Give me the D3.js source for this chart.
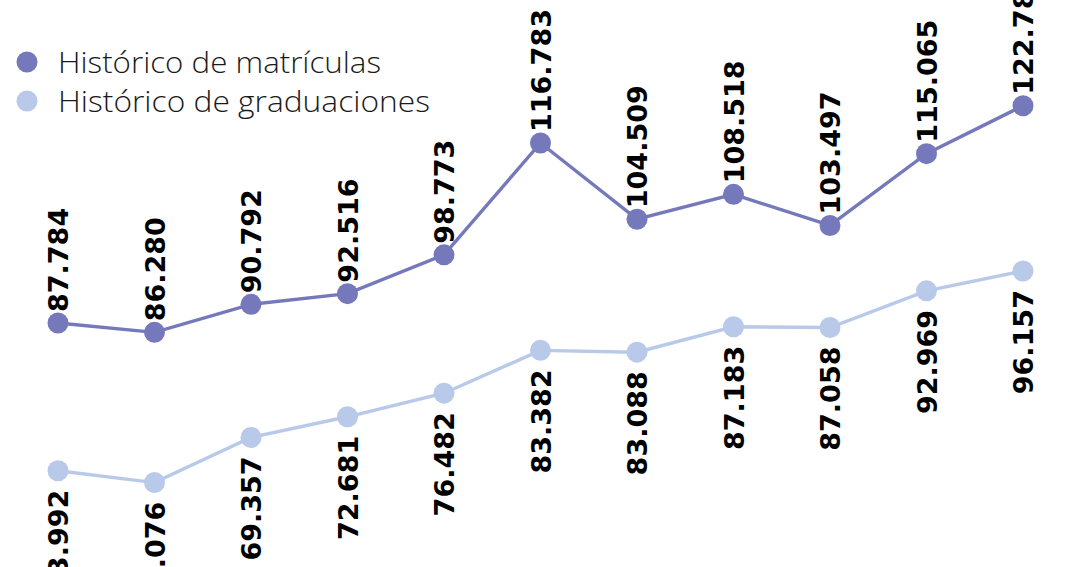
<!DOCTYPE html>
<html><head><meta charset="utf-8">
<script src="https://cdn.jsdelivr.net/npm/d3@7/dist/d3.min.js"></script>
<style>html,body{margin:0;padding:0;background:#fff;overflow:hidden}</style>
</head><body>
<svg id="c" width="1080" height="567"></svg>
<script>
const categories = ["1","2","3","4","5","6","7","8","9","10","11"];
const matriculas = [87.784, 86.280, 90.792, 92.516, 98.773, 116.783, 104.509, 108.518, 103.497, 115.065, 122.783];
const graduaciones = [63.992, 62.076, 69.357, 72.681, 76.482, 83.382, 83.088, 87.183, 87.058, 92.969, 96.157];
const seriesNames = ["Histórico de matrículas", "Histórico de graduaciones"];
const colors = ["#7579bb", "#b8c9ea"];

const svg = d3.select("#c");
const x = d3.scalePoint().domain(categories).range([58, 1023]);
const y = d3.scaleLinear().domain([60, 125]).range([495.5, 92]);
const fmt = v => v.toFixed(3);

const series = [
  {name: seriesNames[0], values: matriculas, color: colors[0], above: true},
  {name: seriesNames[1], values: graduaciones, color: colors[1], above: false}
];

const line = d3.line().x((d,i)=>x(categories[i])).y(d=>y(d));

series.forEach(s => {
  const g = svg.append("g");
  g.append("path").datum(s.values).attr("d", line)
    .attr("fill","none").attr("stroke", s.color).attr("stroke-width", 3.4);
  g.selectAll("circle").data(s.values).join("circle")
    .attr("cx",(d,i)=>x(categories[i])).attr("cy",d=>y(d)).attr("r",10.5)
    .attr("fill", s.color);
  g.selectAll("text").data(s.values).join("text")
    .attr("transform",(d,i)=>{
      const px = x(categories[i]) + 10;
      const py = s.above ? y(d) - 11 : y(d) + 19;
      return `translate(${px},${py}) rotate(-90)`;
    })
    .attr("text-anchor", s.above ? "start" : "end")
    .attr("font-family","'DejaVu Sans', sans-serif")
    .attr("font-weight","bold")
    .attr("font-size", 27)
    .attr("fill","#000")
    .text(d=>fmt(d));
});

const legend = svg.append("g");
const legendWidths = [323, 372];
series.forEach((s,i)=>{
  const ly = 62 + i*39;
  legend.append("circle").attr("cx",27).attr("cy",ly).attr("r",10.5).attr("fill",s.color);
  legend.append("text").attr("x",58).attr("y",ly+11)
    .attr("font-family","'Open Sans', Lato, sans-serif")
    .attr("font-weight",300)
    .attr("font-size",30)
    .attr("textLength", legendWidths[i])
    .attr("lengthAdjust","spacingAndGlyphs")
    .attr("fill","#1a1a1a")
    .text(s.name);
});
</script>
</body></html>
